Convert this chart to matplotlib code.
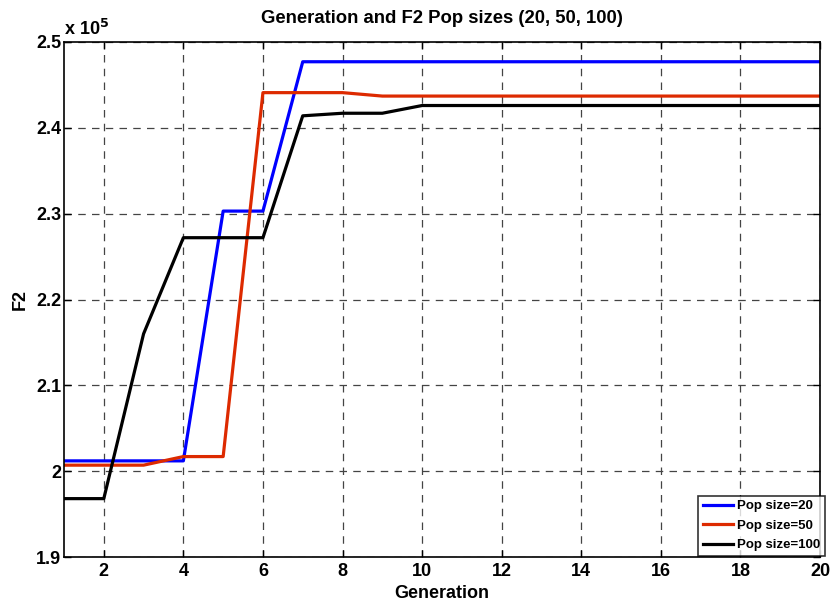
import matplotlib
matplotlib.use("Agg")
import matplotlib.pyplot as plt
from matplotlib.ticker import FuncFormatter

generations = list(range(1, 21))
pop20 = [201200, 201200, 201200, 201200, 230300, 230300] + [247700] * 14
pop50 = [200700, 200700, 200700, 201700, 201700, 244100, 244100, 244100] + [243700] * 12
pop100 = [196800, 196800, 216000, 227200, 227200, 227200, 241400, 241700, 241700] + [242600] * 11
labels = ["Pop size=20", "Pop size=50", "Pop size=100"]
xticks = [2, 4, 6, 8, 10, 12, 14, 16, 18, 20]
yticks = [190000, 200000, 210000, 220000, 230000, 240000, 250000]

plt.rcParams['font.family'] = ['Liberation Sans', 'DejaVu Sans']
plt.rcParams['font.weight'] = 'bold'

fig = plt.figure(figsize=(8.36, 6.09), dpi=100)
ax = fig.add_axes([64/836, 1-557/609, (820-64)/836, (557-42)/609])

ax.plot(generations, pop20, color='#0000ff', lw=2.3, label=labels[0])
ax.plot(generations, pop50, color='#dd2a00', lw=2.3, label=labels[1])
ax.plot(generations, pop100, color='#000000', lw=2.3, label=labels[2])

ax.set_xlim(1, 20)
ax.set_ylim(190000, 250000)
ax.set_xticks(xticks)
ax.set_yticks(yticks)
ax.yaxis.set_major_formatter(FuncFormatter(lambda v, p: f"{v/1e5:g}"))
ax.tick_params(direction='in', labelsize=13, width=1, length=5, top=True, right=True)
ax.tick_params(axis='y', pad=2)
ax.tick_params(axis='x', pad=4)
for lab in ax.get_xticklabels() + ax.get_yticklabels():
    lab.set_fontweight('bold')
ax.grid(True, linestyle=(0, (6, 5)), color='#444444', lw=0.9)
for s in ax.spines.values():
    s.set_linewidth(1.2)

ax.text(0.0, 1.005, r"x 10$^{5}$", transform=ax.transAxes, fontsize=13,
        fontweight='bold', ha='left', va='bottom')
ax.set_title("Generation and F2 Pop sizes (20, 50, 100)", fontsize=13.3,
             fontweight='bold', pad=14)
ax.set_xlabel("Generation", fontsize=13, fontweight='bold', labelpad=4)
ax.set_ylabel("F2", fontsize=13, fontweight='bold', labelpad=5)

leg = ax.legend(loc='lower right', bbox_to_anchor=(825/836, 1-556/609),
                bbox_transform=fig.transFigure, fontsize=9.5, frameon=True,
                fancybox=False, edgecolor='black', borderpad=0.35,
                handlelength=2.3, labelspacing=0.55, handletextpad=0.3,
                borderaxespad=0.0)
leg.get_frame().set_linewidth(1.2)
for t in leg.get_texts():
    t.set_fontweight('bold')

fig.savefig("out.png", dpi=100)
